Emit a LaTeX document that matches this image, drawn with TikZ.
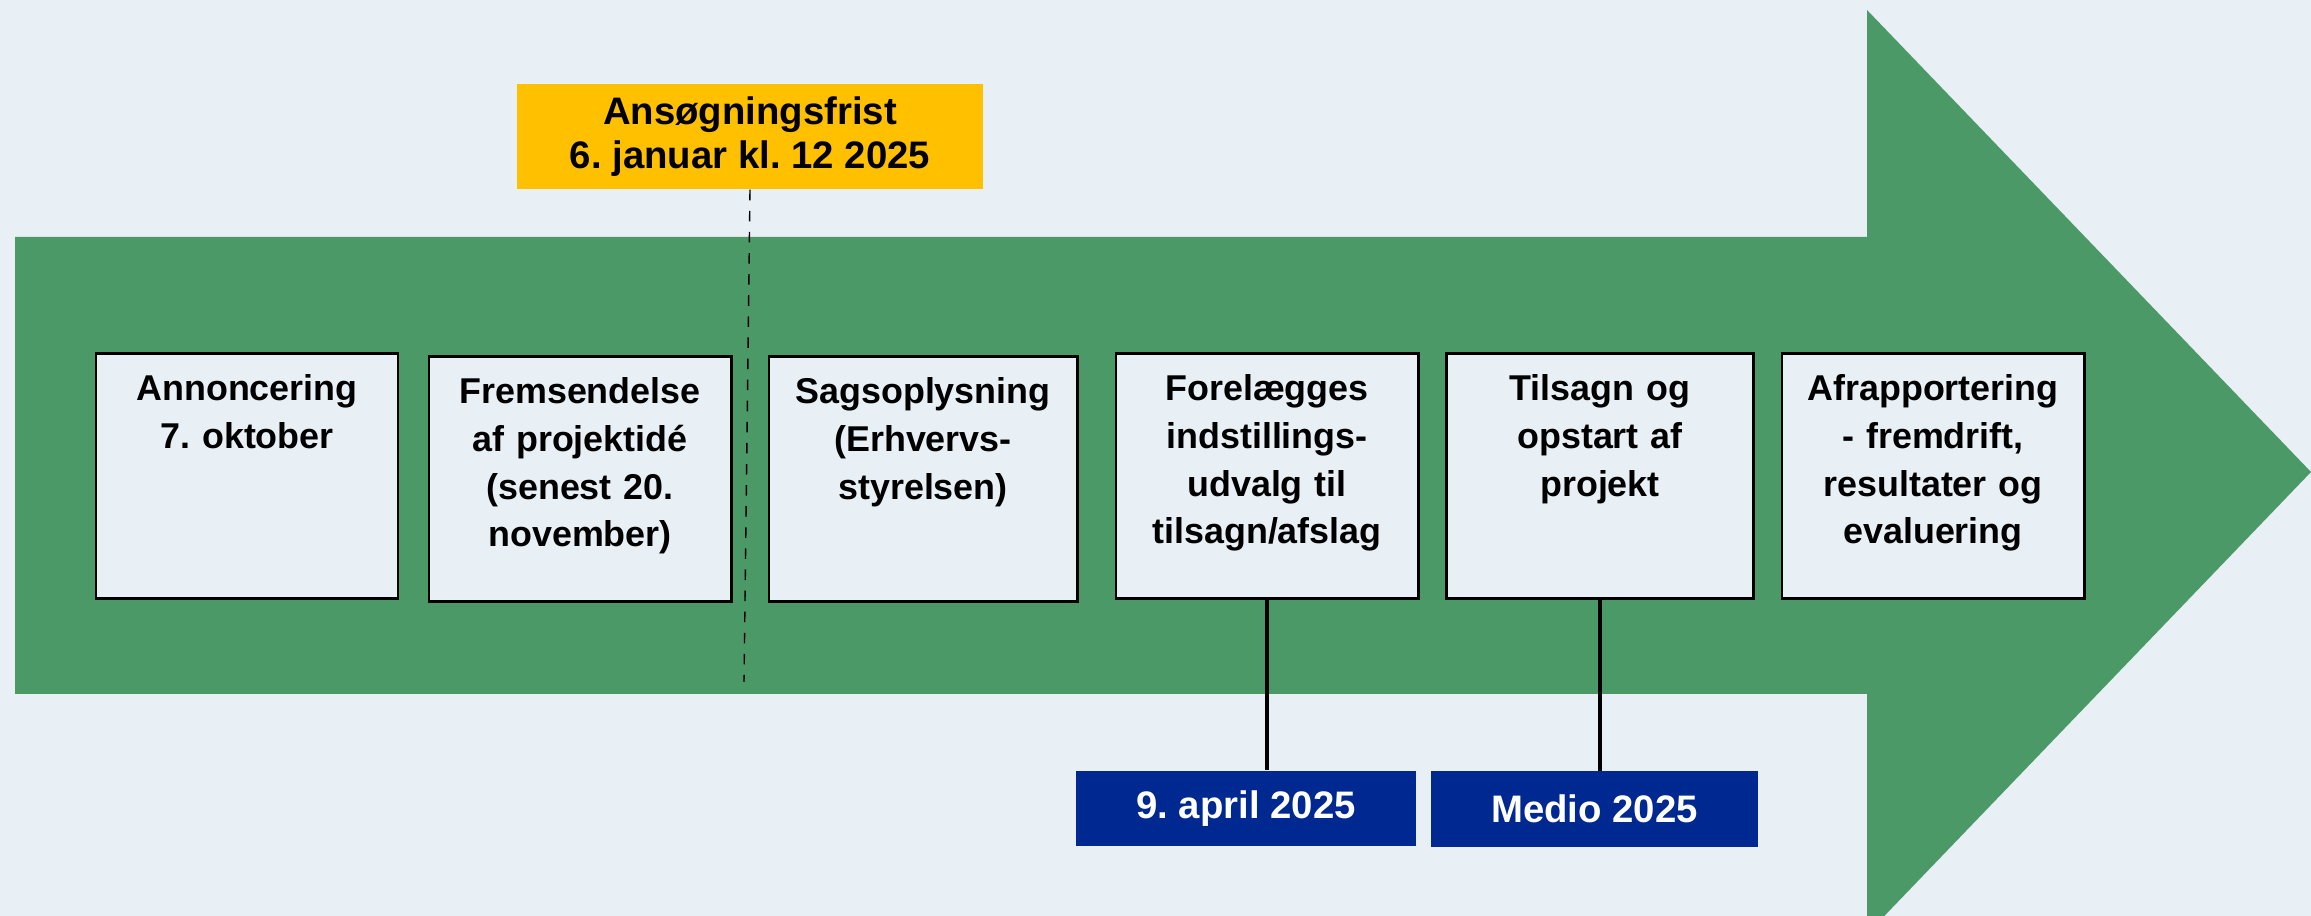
\documentclass[tikz,border=0pt]{standalone}
\usepackage{fontspec}
\setmainfont{Liberation Sans}
\frenchspacing
\definecolor{bgblue}{HTML}{E8F0F6}
\definecolor{arrowgreen}{HTML}{4C9968}
\definecolor{fristyellow}{HTML}{FFC000}
\definecolor{dateblue}{HTML}{002891}

\begin{document}
\begin{tikzpicture}[x=0.01cm, y=-0.01cm,
    phase/.style ={draw, thick, fill=bgblue, anchor=north, align=center,
      text width=2.9cm, minimum width=3.02cm, inner xsep=0pt, inner ysep=0pt,
      text height=0.47cm, text depth=1.98cm,
      font=\bfseries\fontsize{10.2}{13.6}\selectfont},
    frist/.style ={fill=fristyellow, align=center, minimum width=4.66cm,
      minimum height=1.05cm, font=\bfseries\fontsize{10.9}{12.6}\selectfont},
    dato/.style ={fill=dateblue, text=white, minimum height=0.75cm,
      font=\bfseries\fontsize{10.9}{12.6}\selectfont}]
   \fill[bgblue] (0,0) rectangle (2311,916);
   \clip (0,0) rectangle (2311,916);

   \fill[arrowgreen] (15,237) -- (1867,237) -- (1867,10) -- (2311,472)
      -- (1867,934) -- (1867,694) -- (15,694) -- cycle;

   \node[phase] (b1) at (247,352) {Annoncering\\7. oktober};
   \node[phase] (b2) at (580,355) {Fremsendelse\\af projektidé\\(senest 20.\\november)};
   \node[phase, minimum width=3.08cm] (b3) at (923,355) {Sagsoplysning\\(Erhvervs-\\styrelsen)};
   \node[phase] (b4) at (1267,352) {Forelægges\\indstillings-\\udvalg til\\tilsagn/afslag};
   \node[phase, minimum width=3.07cm] (b5) at (1600,352) {Tilsagn og\\opstart af\\projekt};
   \node[phase] (b6) at (1933,352) {Afrapportering\\- fremdrift,\\resultater og\\evaluering};

   \node[frist] (ys) at (750,136.5) {Ansøgningsfrist\\6. januar kl. 12 2025};
   \node[dato, minimum width=3.39cm] (d1) at (1246,808.5) {9. april 2025};
   \node[dato, minimum width=3.27cm] (d2) at (1594.5,809) {Medio 2025};
   \coordinate (frist) at (744,682);

   \draw[dashed, thin] (ys.south) to (frist);
   \draw[line width=1.3pt] (b4.south) to (b4.south |- d1.north);
   \draw[line width=1.3pt] (b5.south) to (b5.south |- d2.north);
 \end{tikzpicture}
\end{document}
